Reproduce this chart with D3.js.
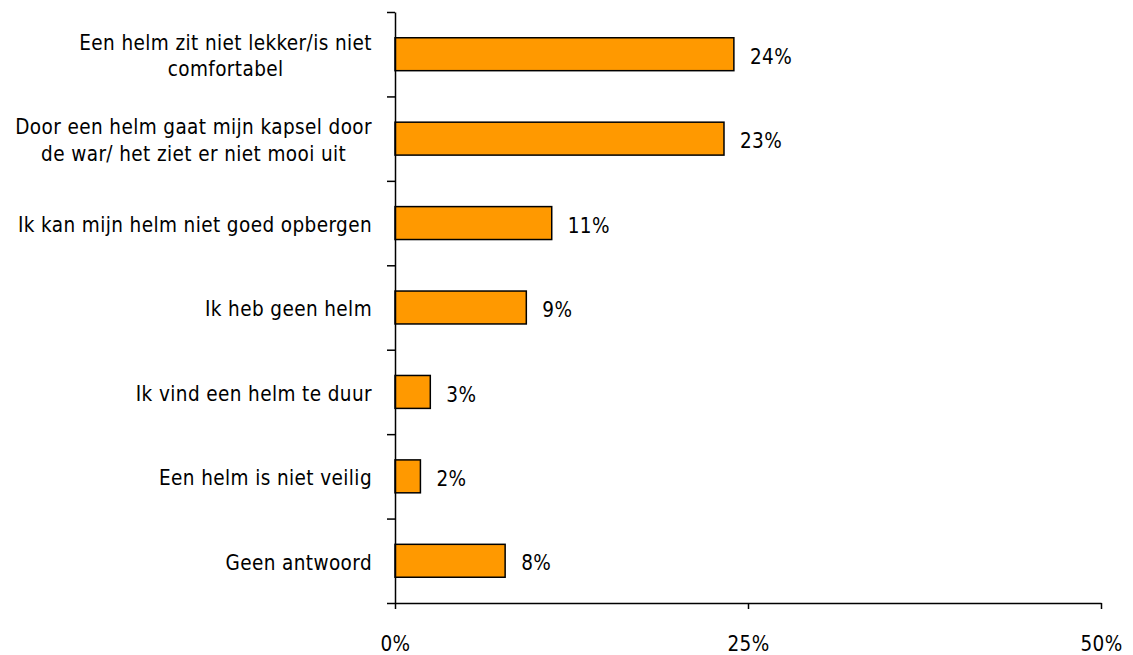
<!DOCTYPE html>
<html>
<head>
<meta charset="utf-8">
<script src="https://cdn.jsdelivr.net/npm/d3@7"></script>
<style>
    body { margin: 0; background: #fff; }
    svg text { font-family: "DejaVu Sans Condensed", "DejaVu Sans", sans-serif; fill: #000; letter-spacing: 0.4px; }
</style>
</head>
<body>
<svg id="chart"></svg>
<script>
// Category labels (split into lines as in the reference)
const categories = [
    ["Een helm zit niet lekker/is niet", "comfortabel"],
    ["Door een helm gaat mijn kapsel door", "de war/ het ziet er niet mooi uit"],
    ["Ik kan mijn helm niet goed opbergen"],
    ["Ik heb geen helm"],
    ["Ik vind een helm te duur"],
    ["Een helm is niet veilig"],
    ["Geen antwoord"]
];
// Percentages
const values = [24, 23.3, 11.1, 9.3, 2.5, 1.8, 7.8];
const valueLabels = ["24%", "23%", "11%", "9%", "3%", "2%", "8%"];
const xTicks = [0, 25, 50];

const W = 1133, H = 655;
const plot = { left: 395, right: 1101, top: 12, bottom: 603 };
const fontSize = 20.5;

const svg = d3.select('#chart')
    .attr('width', W)
    .attr('height', H);

const x = d3.scaleLinear().domain([0, 50]).range([plot.left, plot.right]);
const yEdge = d3.scaleLinear().domain([0, categories.length]).range([plot.top, plot.bottom]);
const band = yEdge(1) - yEdge(0);
const barH = band * 0.39;

// Bars
svg.selectAll('.bar')
    .data(values)
    .join('rect')
        .attr('class', 'bar')
        .attr('x', x(0))
        .attr('y', (d, i) => yEdge(i + 0.5) - barH / 2)
        .attr('width', d => x(d) - x(0))
        .attr('height', barH)
        .attr('fill', '#FF9900')
        .attr('stroke', '#000')
        .attr('stroke-width', 1.5);

// Value labels
svg.selectAll('.val')
    .data(values)
    .join('text')
        .attr('class', 'val')
        .attr('x', d => x(d) + 16)
        .attr('y', (d, i) => yEdge(i + 0.5) + 2.5)
        .attr('dy', '0.35em')
        .attr('font-size', fontSize)
        .text((d, i) => valueLabels[i]);

// Y axis: ticks sit on category boundaries
svg.append('g')
    .attr('transform', `translate(${plot.left},0)`)
    .call(d3.axisLeft(yEdge)
        .tickValues(d3.range(categories.length + 1))
        .tickFormat('')
        .tickSizeInner(8)
        .tickSizeOuter(0))
    .call(g => g.selectAll('line, path').attr('stroke', '#000').attr('stroke-width', 1.5));

// X axis
svg.append('g')
    .attr('transform', `translate(0,${plot.bottom})`)
    .call(d3.axisBottom(x)
        .tickValues(xTicks)
        .tickFormat(d => d + '%')
        .tickSizeInner(6)
        .tickSizeOuter(0)
        .tickPadding(27))
    .call(g => g.selectAll('line, path').attr('stroke', '#000').attr('stroke-width', 1.5))
    .call(g => g.selectAll('text').attr('font-size', fontSize).attr('font-family', null));

// Category labels: block right-aligned to the axis, lines centred inside it
const labelRight = plot.left - 23;
const lineH = 26.5;
categories.forEach((lines, i) => {
    const g = svg.append('g');
    const texts = lines.map((l, j) => g.append('text')
        .attr('font-size', fontSize)
        .attr('text-anchor', 'middle')
        .attr('dy', '0.35em')
        .attr('y', yEdge(i + 0.5) + 1.8 + (j - (lines.length - 1) / 2) * lineH)
        .text(l));
    const maxW = d3.max(texts, t => t.node().getComputedTextLength());
    texts.forEach(t => t.attr('x', labelRight - maxW / 2));
});
</script>
</body>
</html>
